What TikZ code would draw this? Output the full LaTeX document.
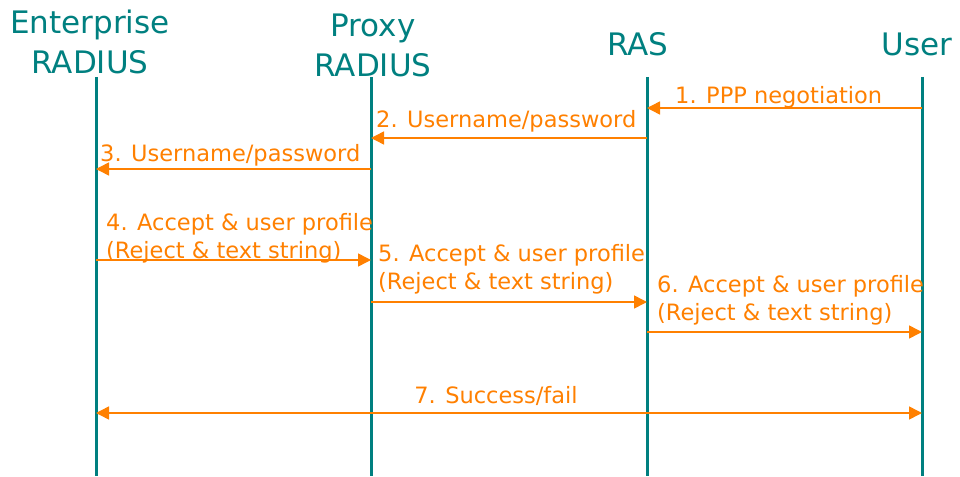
\documentclass[tikz,border=0pt]{standalone}
\usepackage{fontspec}
\setmainfont{DejaVu Sans}
\usetikzlibrary{arrows.meta}
\definecolor{lifeteal}{RGB}{0,128,128}
\definecolor{msgorange}{RGB}{255,128,0}
\tikzset{
  actor/.style={text=lifeteal, font=\fontsize{31}{40}\selectfont, align=center, inner sep=0pt, anchor=base},
  lifeline/.style={draw=lifeteal, line width=3pt},
  tip/.tip={Triangle[length=13pt,width=13pt]},
  msg/.style={draw=msgorange, line width=1.5pt, -tip},
  msgboth/.style={draw=msgorange, line width=1.5pt, tip-tip},
  msglabel/.style={text=msgorange, font=\fontsize{22.5}{28}\selectfont, align=left, inner sep=0pt, anchor=base west},
}
\begin{document}
\begin{tikzpicture}[x=1pt, y=-1pt]
\useasboundingbox (0,0) rectangle (960,476);
\fill[white] (0,0) rectangle (960,476);

% participants (anchor base = baseline of the last line)
\node[actor] (entname) at (90,74) {Enterprise\\RADIUS};
\node[actor] (proxyname) at (373,77) {Proxy\\RADIUS};
\node[actor] (rasname) at (638,56) {RAS};
\node[actor] (username) at (917,56) {User};

% lifelines
\coordinate (ent) at (96,77);
\coordinate (proxy) at (371,77);
\coordinate (ras) at (647,77);
\coordinate (usr) at (922,77);
\coordinate (bottom) at (0,476);
\foreach \p in {ent,proxy,ras,usr}
  \draw[lifeline] (\p) -- (\p |- bottom);

% message heights
\coordinate (m1) at (0,108);
\coordinate (m2) at (0,138);
\coordinate (m3) at (0,169);
\coordinate (m4) at (0,260);
\coordinate (m5) at (0,302);
\coordinate (m6) at (0,332);
\coordinate (m7) at (0,413);

% messages
\draw[msg] (usr |- m1) -- (ras |- m1);
\node[msglabel] (l1) at (675,103) {1. PPP negotiation};

\draw[msg] (ras |- m2) -- (proxy |- m2);
\node[msglabel] (l2) at (376,128) {2. Username/password};

\draw[msg] (proxy |- m3) -- (ent |- m3);
\node[msglabel] (l3) at (100,161) {3. Username/password};

\draw[msg] (ent |- m4) -- (proxy |- m4);
\node[msglabel] (l4) at (106,258) {4. Accept \& user profile\\(Reject \& text string)};

\draw[msg] (proxy |- m5) -- (ras |- m5);
\node[msglabel] (l5) at (378,289) {5. Accept \& user profile\\(Reject \& text string)};

\draw[msg] (ras |- m6) -- (usr |- m6);
\node[msglabel] (l6) at (657,320) {6. Accept \& user profile\\(Reject \& text string)};

\draw[msgboth] (ent |- m7) -- (usr |- m7);
\node[msglabel, anchor=base] (l7) at (496,403) {7. Success/fail};
\end{tikzpicture}
\end{document}
